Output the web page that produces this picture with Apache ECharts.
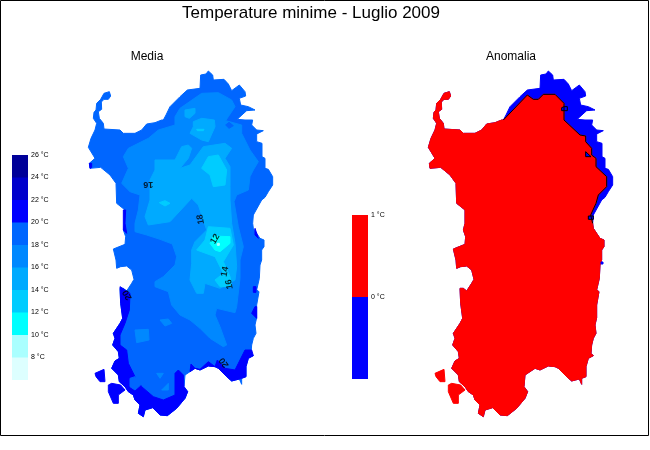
<!DOCTYPE html>
<html>
<head>
<meta charset="utf-8">
<title>Temperature minime - Luglio 2009</title>
<script src="https://cdn.jsdelivr.net/npm/echarts@6/dist/echarts.min.js"></script>
<style>
html,body{margin:0;padding:0;background:#fff}
#main{width:650px;height:450px}
</style>
</head>
<body>
<div id="main"></div>
<script>
// map units: thirds of a pixel, y grows southwards
var coastEast = [[250,180],[258,165],[270,140],[300,110],[322,90],[360,85],[362,45],[378,42],[385,33],[398,45],[400,60],[432,58],[445,72],[455,92],[478,75],[495,95],[497,108],[478,115],[482,135],[505,140],[525,150],[500,152],[480,170],[472,178],[495,180],[518,180],[515,195],[530,210],[550,212],[530,222],[530,245],[546,250],[546,290],[555,295],[555,325],[565,328],[578,350],[578,375],[565,395],[555,412],[545,420],[520,465],[518,490]];
var coastRest = [[520,505],[530,520],[540,535],[552,540],[552,560],[545,570],[545,600],[540,615],[538,655],[530,690],[537,695],[530,735],[530,773],[525,795],[528,820],[520,835],[515,855],[513,880],[520,887],[505,895],[498,920],[498,950],[485,955],[485,973],[478,957],[455,963],[440,950],[415,925],[405,920],[385,918],[360,930],[345,925],[330,935],[315,945],[312,980],[323,995],[315,1015],[290,1045],[262,1067],[240,1065],[218,1043],[195,1050],[190,1070],[175,1060],[180,1035],[165,1020],[160,1005],[145,995],[135,980],[118,965],[115,945],[95,925],[105,903],[118,895],[115,875],[98,855],[105,835],[100,820],[120,790],[128,775],[122,730],[120,685],[130,685],[140,693],[155,670],[162,658],[155,630],[140,618],[122,620],[110,625],[108,600],[100,567],[135,553],[137,530],[130,510],[135,490],[135,450],[110,430],[108,370],[90,345],[62,322],[30,325],[28,310],[45,295],[25,262],[33,235],[45,210],[50,190],[40,175],[42,157],[48,150],[50,130],[62,118],[72,100],[88,95],[92,108],[85,118],[72,118],[64,126],[65,148],[55,155],[58,175],[70,190],[72,207],[120,210],[130,220],[165,220],[185,210],[200,192],[225,188],[245,180]];
var islandPietro = [[45,940],[72,928],[75,965],[60,965],[48,950]];
var islandAntioco = [[85,975],[95,970],[122,975],[135,990],[115,1005],[115,1030],[100,1030],[85,995]];

// levels of the Media panel, drawn from warm (outer) to cool (inner)
var warmWest = [[120,680],[128,685],[150,700],[148,750],[135,790],[120,825],[120,855],[140,870],[145,910],[165,950],[185,980],[220,1010],[250,1020],[285,1005],[285,940],[295,930],[310,945],[312,980],[323,995],[315,1015],[290,1045],[262,1067],[240,1065],[218,1043],[195,1050],[190,1070],[175,1060],[180,1035],[165,1020],[160,1005],[145,995],[135,980],[118,965],[115,945],[95,925],[105,903],[118,895],[115,875],[98,855],[105,835],[100,820],[120,790],[128,775],[122,730]];
var warmGulf = [[333,912],[345,925],[360,928],[385,905],[405,920],[412,900],[435,925],[465,930],[475,910],[495,870],[515,870],[520,887],[505,895],[498,920],[498,950],[485,955],[478,957],[455,963],[440,950],[415,925],[405,920],[385,918],[360,930],[345,925],[330,935]];
var warmStrip = [[130,450],[137,450],[135,490],[140,520],[130,510]];
var warmTip = [[28,310],[35,310],[35,322],[30,325]];
var warmEast1 = [[525,505],[535,535],[525,525]];
var warmEast2 = [[520,680],[528,680],[528,697],[520,697]];
var warmEast3 = [[525,740],[530,740],[530,775],[515,760]];
var coolPalmas = [[150,955],[165,950],[180,960],[182,975],[165,990],[150,980]];

var level18 = [[365,100],[415,98],[455,120],[465,140],[445,170],[437,182],[485,195],[485,220],[510,270],[535,305],[520,330],[510,350],[505,390],[470,405],[462,425],[475,500],[490,560],[480,600],[480,655],[470,740],[465,758],[410,745],[405,765],[420,800],[440,855],[430,860],[390,835],[360,805],[330,780],[300,765],[275,735],[265,695],[225,680],[225,665],[250,650],[285,615],[290,590],[277,552],[240,538],[200,525],[165,515],[165,490],[175,450],[180,405],[150,395],[125,370],[145,325],[130,290],[145,265],[205,235],[235,210],[285,195],[285,170],[300,145]];
var level18Dark = [[437,195],[447,187],[460,197],[447,205]];
var level18South = [[165,810],[205,808],[207,840],[170,848]];
var level18Patch = [[240,780],[265,777],[275,790],[255,798]];
var level18Tiny1 = [[230,940],[250,940],[240,955]];
var level18Tiny2 = [[245,990],[265,970],[265,990]];
var level16 = [[225,300],[285,300],[305,260],[325,255],[335,265],[325,295],[300,325],[330,315],[370,260],[435,250],[455,265],[435,295],[450,320],[450,380],[450,420],[455,490],[465,550],[470,620],[465,660],[420,685],[375,670],[370,700],[350,700],[330,660],[335,610],[335,570],[345,545],[380,510],[370,480],[355,435],[335,415],[270,485],[205,495],[195,470],[210,420],[210,360],[225,330]];
var level16North = [[340,185],[365,175],[403,180],[405,200],[385,245],[365,240],[330,220],[340,200]];
var level16Top = [[315,150],[345,145],[345,160],[328,175],[315,170]];
var level14 = [[365,325],[385,290],[415,285],[440,330],[435,375],[400,380],[390,345]];
var level14South = [[350,570],[375,540],[385,500],[450,505],[460,555],[430,605],[450,650],[455,680],[420,680],[405,660],[430,640],[405,590]];
var level14Patch = [[238,428],[255,422],[270,430],[255,438]];
var level14Top = [[350,208],[372,208],[370,212],[352,212]];
var level12 = [[390,550],[400,528],[450,530],[450,550],[420,575],[405,570]];
var level10 = [[412,550],[418,550],[418,556],[412,556]];

// contour at 0 of the Anomalia panel
var zeroLine = [[250,180],[322,105],[340,118],[355,118],[370,103],[405,103],[432,130],[432,180],[480,225],[497,228],[497,245],[515,265],[515,285],[528,295],[528,320],[560,350],[560,380],[535,405],[528,430],[512,465],[518,490]];
var zeroRect1 = [[425,143],[432,140],[442,140],[442,152],[425,152]];
var zeroTriangle = [[497,275],[513,290],[497,290]];
var zeroRect2 = [[505,468],[520,468],[520,478],[505,478]];
var zeroDot = [[543,606],[549,606],[549,612],[543,612]];

// contour labels: x, y, text, rotation
var contourLabels = [[205,373,'16',180],[362,478,'18',100],[405,537,'12',60],[435,635,'14',80],[448,673,'16',100],[142,705,'20',120],[432,908,'20',125]];

// colour bars
var barTops = [26,24,22,20,18,16,14,12,10,8];
var barColors = ['#000099','#0000cc','#0000ff','#0066ff','#0088ff','#00aaff','#00ccff','#00ffff','#aaffff','#ddffff'];
var anomalyTops = [1,-1];
var anomalyColors = ['#ff0000','#0000ff'];

var FONT = '"Liberation Sans", Arial, sans-serif';

function area(points, color, gridIndex, outline) {
  return {
    type: 'custom',
    coordinateSystem: 'cartesian2d',
    xAxisIndex: gridIndex,
    yAxisIndex: gridIndex,
    silent: true,
    clip: false,
    data: points,
    renderItem: function (params, api) {
      if (params.dataIndex !== 0) return;
      return {
        type: 'polygon',
        shape: { points: points.map(function (p) { return api.coord(p); }) },
        style: { fill: color, stroke: outline || color, lineWidth: 1 }
      };
    }
  };
}

var coast = coastEast.concat(coastRest);
var mediaLayers = [
  [coast, '#0066ff'], [islandPietro, '#0000ff'], [islandAntioco, '#0000ff'],
  [warmWest, '#0000ff'], [warmGulf, '#0000ff'], [warmStrip, '#0000ff'], [warmTip, '#0000ff'],
  [warmEast1, '#0000ff'], [warmEast2, '#0000ff'], [warmEast3, '#0000ff'], [coolPalmas, '#0066ff'],
  [level18, '#0088ff'], [level18Dark, '#0066ff'], [level18South, '#0088ff'], [level18Patch, '#0088ff'],
  [level18Tiny1, '#0088ff'], [level18Tiny2, '#0088ff'],
  [level16, '#00aaff'], [level16North, '#00aaff'], [level16Top, '#00aaff'],
  [level14, '#00ccff'], [level14South, '#00ccff'], [level14Patch, '#00ccff'], [level14Top, '#00ccff'],
  [level12, '#00ffff'], [level10, '#aaffff']
];

var series = [];
mediaLayers.forEach(function (l) { series.push(area(l[0], l[1], 0)); });

series.push({
  type: 'scatter', xAxisIndex: 0, yAxisIndex: 0, symbolSize: 0, silent: true, z: 5,
  data: contourLabels.map(function (c) {
    return {
      value: [c[0], c[1]],
      label: { show: true, position: 'inside', formatter: c[2], rotate: c[3], color: '#000', fontFamily: FONT, fontWeight: 'bold', fontSize: 9 }
    };
  })
});

// Anomalia: blue land, red on the south-west side of the zero contour
series.push(area(coast, '#0000ff', 1));
series.push(area(zeroLine.concat(coastRest), '#ff0000', 1));
series.push(area(islandPietro, '#ff0000', 1));
series.push(area(islandAntioco, '#ff0000', 1));
series.push(area(zeroRect1, '#0000ff', 1, '#000000'));
series.push(area(zeroTriangle, '#0000ff', 1, '#000000'));
series.push(area(zeroRect2, '#0000ff', 1, '#000000'));
series.push(area(zeroDot, '#0000ff', 1));
series.push({
  type: 'line', xAxisIndex: 1, yAxisIndex: 1, data: zeroLine, showSymbol: false, silent: true,
  lineStyle: { color: '#000', width: 1 }
});

barTops.forEach(function (t, i) {
  series.push({ type: 'bar', xAxisIndex: 2, yAxisIndex: 2, barWidth: '100%', barGap: '-100%', silent: true, data: [t], itemStyle: { color: barColors[i] } });
});
anomalyTops.forEach(function (t, i) {
  series.push({ type: 'bar', xAxisIndex: 3, yAxisIndex: 3, barWidth: '100%', barGap: '-100%', silent: true, data: [t], itemStyle: { color: anomalyColors[i] } });
});

function mapX(i) { return { gridIndex: i, type: 'value', min: 0, max: 630, show: false }; }
function mapY(i) { return { gridIndex: i, type: 'value', min: 0, max: 1080, inverse: true, show: false }; }
function barX(i) { return { gridIndex: i, type: 'category', data: [''], show: false }; }
function barY(i, min, max, step, hidden) {
  return {
    gridIndex: i, type: 'value', min: min, max: max, interval: step, position: 'right',
    splitLine: { show: false }, axisLine: { show: false }, axisTick: { show: false },
    axisLabel: {
      margin: 3, fontSize: 7, color: '#000', fontFamily: FONT,
      formatter: function (v) { return v === hidden ? '' : v + ' °C'; }
    }
  };
}

var chart = echarts.init(document.getElementById('main'), null, { renderer: 'canvas' });
chart.setOption({
  animation: false,
  backgroundColor: '#fff',
  title: [
    { text: 'Temperature minime - Luglio 2009', left: 311, top: 5, padding: 0, textAlign: 'center', textStyle: { fontFamily: FONT, fontSize: 17, fontWeight: 'normal', color: '#000' } },
    { text: 'Media', left: 147, top: 51, padding: 0, textAlign: 'center', textStyle: { fontFamily: FONT, fontSize: 12, fontWeight: 'normal', color: '#000' } },
    { text: 'Anomalia', left: 511, top: 51, padding: 0, textAlign: 'center', textStyle: { fontFamily: FONT, fontSize: 12, fontWeight: 'normal', color: '#000' } }
  ],
  grid: [
    { left: 80, top: 60, width: 210, height: 360 },
    { left: 420, top: 60, width: 210, height: 360 },
    { left: 12, top: 155, width: 16, height: 225 },
    { left: 352, top: 215, width: 16, height: 164 }
  ],
  xAxis: [mapX(0), mapX(1), barX(2), barX(3)],
  yAxis: [mapY(0), mapY(1), barY(2, 6, 26, 2, 6), barY(3, -1, 1, 1, -1)],
  graphic: [{
    type: 'rect', silent: true,
    shape: { x: 0.5, y: 0.5, width: 648, height: 435 },
    style: { fill: 'none', stroke: '#000', lineWidth: 1 }
  }],
  series: series
});
</script>
</body>
</html>
